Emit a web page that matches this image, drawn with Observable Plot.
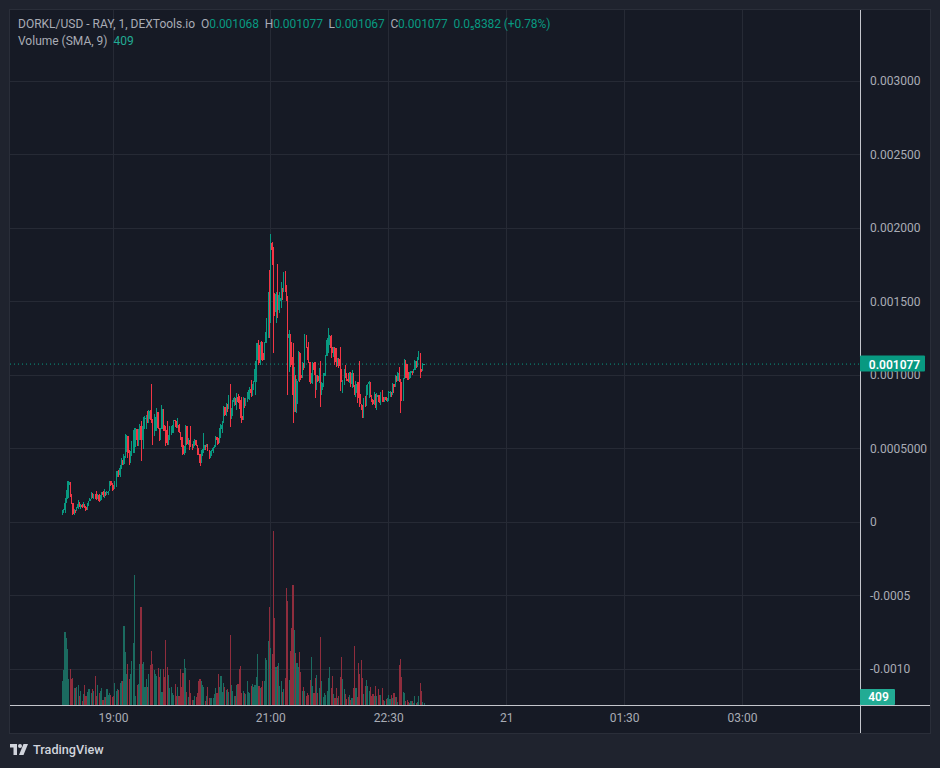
<!DOCTYPE html>
<html><head><meta charset="utf-8">
<script src="https://cdn.jsdelivr.net/npm/d3@7"></script>
<script src="https://cdn.jsdelivr.net/npm/@observablehq/plot@0.6"></script>
<style>
html,body{margin:0;padding:0;background:#1f232e;width:940px;height:768px;overflow:hidden;font-family:Roboto,sans-serif}
#pane{position:absolute;left:9px;top:9px;width:920px;height:723px;background:#161a25;border:1px solid #2a2e39}
#chart{position:absolute;left:0;top:0}
.legend{position:absolute;left:18px;font-size:12px;color:#a9acb5;white-space:pre;line-height:16px}
.legend b{font-weight:400;color:#089981}
.legend span{letter-spacing:-0.09px}
#brand{position:absolute;left:10px;top:742px;display:flex;align-items:center;gap:5px;color:#d1d4dc;font-size:12.7px;font-weight:500}
</style></head><body>
<div id="pane"></div><div id="chart"></div>
<div class="legend" style="top:16px">DORKL/USD - RAY, 1, DEXTools.io  <span>O<b>0.001068</b>  H<b>0.001077</b>  L<b>0.001067</b>  C<b>0.001077</b>  <b>0.0₅8382 (+0.78%)</b></span></div>
<div class="legend" style="top:33px">Volume (SMA, 9)  <b style="color:#22ab94">409</b></div>
<div id="brand"><svg width="18" height="11" viewBox="0 0 36 22" fill="#d1d4dc"><path d="M0 0h14v22H7V7H0z"/><circle cx="20" cy="4" r="4"/><path d="M27 0h9l-9 22h-9z"/></svg><span>TradingView</span></div>
<script>
// prices in millionths of a dollar, one candle per minute from 18:21
const highs=[82,86,161,218,279,279,252,177,127,86,
82,100,150,136,123,120,136,120,109,127,
143,161,200,190,190,190,211,188,190,186,
205,207,222,200,207,213,279,275,263,252,
275,343,347,354,388,433,422,463,599,594,
517,490,483,547,626,637,637,569,630,667,
683,655,712,717,728,757,762,762,939,698,
735,712,773,694,637,637,796,712,660,649,
683,592,649,653,660,694,689,671,705,667,
603,580,580,513,660,615,569,558,653,531,
553,565,547,524,501,456,490,494,603,524,
531,531,456,479,490,508,524,581,575,569,
637,667,683,789,785,807,785,864,939,773,
830,853,841,875,871,857,830,853,853,818,
841,887,895,920,966,936,960,1095,1215,1220,
1238,1227,1230,1227,1227,1295,1390,1567,1714,1959,
1907,1873,1560,1567,1755,1544,1567,1635,1589,1703,
1707,1610,1533,1306,1238,1227,1215,1056,990,973,
1163,1147,1152,1090,1079,1276,1272,1190,1227,1090,
1011,1090,1085,1090,1000,1000,1045,1095,950,1011,
1011,1136,1249,1317,1272,1272,1192,1192,1192,1181,
1118,1118,1188,1040,966,1041,1068,1010,1011,1022,
1022,1034,973,932,960,955,955,1095,796,796,
841,859,932,940,959,909,864,837,886,864,
875,852,860,886,898,852,852,852,841,891,
890,886,943,927,1000,989,1022,1056,955,950,
977,1109,1102,1068,1022,1022,1027,1027,1041,1102,
1068,1125,1163,1131,1034,1079,1077];
const lows=[48,59,59,127,154,161,172,123,48,50,
59,77,91,100,89,93,109,93,75,82,
111,139,159,161,154,154,150,154,132,150,
150,172,160,176,182,184,213,245,213,218,
240,240,304,308,308,358,388,388,433,474,
433,388,399,449,467,467,508,513,513,558,
417,569,497,630,630,671,671,690,671,524,
581,615,615,630,547,569,630,615,615,517,
524,524,558,592,603,603,644,637,637,603,
558,510,456,456,524,524,524,490,508,490,
501,513,513,456,456,381,417,445,472,490,
508,479,429,433,449,467,508,508,520,531,
535,569,603,676,717,717,750,789,644,717,
721,789,796,762,807,767,705,676,721,773,
807,819,834,830,852,859,900,864,955,1100,
1068,1068,1100,1095,1102,1215,1215,1249,1249,1356,
1748,1147,1400,1351,1385,1442,1424,1453,1510,1567,
1567,1500,864,1022,1056,1068,671,750,750,739,
977,955,966,1011,1034,1045,1186,1100,1079,936,
943,940,1000,846,900,950,945,784,864,920,
990,990,1147,1147,1204,1113,1147,1120,1068,1056,
1100,1045,891,950,875,932,977,960,955,943,
920,914,920,864,850,807,846,784,762,710,
705,784,791,860,841,852,818,796,796,773,
762,818,810,796,818,818,818,823,818,823,
850,852,864,875,927,954,977,955,739,825,
825,1045,977,966,966,977,977,1000,1011,1041,
1045,1056,1102,982,1022,1045,1067];
const closes=[70,82,127,161,252,272,191,130,55,78,
75,95,125,108,118,100,112,98,82,120,
140,158,195,165,178,160,155,183,140,175,
200,180,205,195,203,210,275,250,225,222,
272,305,335,320,365,400,395,445,540,585,
470,425,470,530,610,625,630,560,620,655,
560,640,700,710,722,700,755,750,690,600,
690,700,745,640,560,630,770,640,625,540,
535,560,640,645,650,690,685,645,660,610,
565,520,460,470,650,530,560,555,515,500,
540,555,520,480,465,400,480,490,520,515,
520,490,440,470,485,500,520,575,555,540,
630,660,675,780,730,800,770,855,700,725,
815,840,810,850,815,790,720,690,840,790,
835,880,890,905,875,930,950,1040,1190,1200,
1080,1220,1150,1100,1220,1290,1380,1560,1480,1900,
1850,1500,1430,1550,1450,1500,1520,1590,1580,1690,
1600,1540,1250,1280,1150,1120,860,1000,800,960,
1155,1000,980,1080,1070,1260,1190,1110,1090,950,
1000,1080,1030,920,990,960,1030,900,945,1000,
1010,1130,1240,1250,1268,1180,1150,1180,1090,1060,
1110,1060,975,955,960,1030,1000,975,960,1010,
940,1010,930,880,940,900,870,800,770,720,
830,795,925,935,950,860,830,800,870,850,
860,845,820,880,830,822,848,826,838,880,
885,860,935,920,990,960,1015,970,850,840,
970,1090,1075,980,972,1015,1025,1010,1035,1095,
1055,1115,1150,1040,1024,1068,1077];
const volumes=[1080,1575,3270,3000,2520,1170,1620,1170,1215,750,
780,825,900,405,630,180,480,900,405,600,
705,705,525,705,630,1305,405,900,525,645,
750,225,375,375,705,450,555,450,375,400,
990,645,705,675,1005,1080,1080,3555,2385,1380,
1845,1155,1395,1980,2790,5850,420,900,945,1845,
4410,1845,1935,810,1155,795,1395,1815,2430,1845,
1575,1395,1320,1665,1275,1635,585,1620,1275,2925,
1725,1335,765,825,555,435,930,420,825,405,
1620,825,1455,2070,1650,570,375,1110,525,225,
225,405,345,525,1080,1170,1095,900,825,180,
405,795,330,300,330,330,480,750,555,1380,
825,1305,600,975,825,675,700,600,3150,900,
645,420,420,900,945,1620,1755,525,630,525,
495,1095,585,555,855,945,810,900,1245,2295,
855,750,825,1080,1080,2115,2025,2880,4410,2565,
2295,7830,3915,1725,1770,1875,855,1065,585,700,
1200,5250,4680,1125,2430,3450,5400,3375,2355,1875,
1725,2385,1485,630,810,615,420,555,450,1125,
2160,855,555,1215,1350,555,780,3060,1080,375,
555,450,630,1215,1710,765,1305,495,300,780,
330,405,1260,2160,1170,705,495,270,375,450,
225,300,765,2655,765,360,1875,1395,2025,1215,
500,855,1125,855,645,795,420,500,405,855,
405,705,450,450,765,225,195,260,300,450,
270,450,330,525,360,360,150,1800,2055,1245,
585,555,180,225,150,100,165,165,75,405,
100,135,405,975,630,135,75];

const firstOpen=55, lastPrice=0.001077, lastVolume=409;
const priceTicks=[0.003,0.0025,0.002,0.0015,0.001,0.0005,0,-0.0005,-0.001];
const priceTickLabels=["0.003000","0.002500","0.002000","0.001500","0.001000","0.0005000","0","-0.0005","-0.0010"];
const timeTicks=["2024-01-20T19:00Z","2024-01-20T21:00Z","2024-01-20T22:30Z","2024-01-21T00:00Z","2024-01-21T01:30Z","2024-01-21T03:00Z"].map(s=>new Date(s));
const timeTickLabels=["19:00","21:00","22:30","21","01:30","03:00"];
const xDomain=[new Date("2024-01-20T17:41:24Z"),new Date("2024-01-21T04:30:00Z")];
const yDomain=[-0.0012456,0.0034823];
const start=+new Date("2024-01-20T18:21:00Z");
const up="#089981",down="#f23645",upVol="#1b6b60",downVol="#8f2d3d",gridCol="#262a35",textCol="#a9acb5";

// volume shares the price panel: it sits on the panel floor on its own hidden ratio
const volumeRatio=1.5117e-7;
const volPos=v=>yDomain[0]+v*volumeRatio;

const candles=closes.map((c,i)=>{
  const open=(i?closes[i-1]:firstOpen)*1e-6, close=c*1e-6;
  return {t:new Date(start+i*60000),open,close,high:highs[i]*1e-6,low:lows[i]*1e-6,volume:volumes[i],rising:close>=open};
});
const crisp={shapeRendering:"crispEdges"};
const chart=Plot.plot({
  width:940,height:733,marginTop:10,marginBottom:28,marginLeft:10,marginRight:80,
  style:{background:"transparent",fontFamily:"Roboto,sans-serif",fontSize:"12px",color:textCol},
  x:{type:"utc",domain:xDomain},
  y:{domain:yDomain},
  marks:[
    Plot.gridX(timeTicks,{stroke:gridCol,strokeOpacity:1,...crisp}),
    Plot.gridY(priceTicks,{stroke:gridCol,strokeOpacity:1,...crisp}),
    Plot.axisY({anchor:"right",ticks:priceTicks,tickSize:0,tickPadding:9.5,label:null,fill:textCol,
      tickFormat:d=>priceTickLabels[priceTicks.indexOf(d)]}),
    Plot.axisX({ticks:timeTicks,tickSize:0,tickPadding:8,label:null,fill:textCol,
      tickFormat:d=>timeTickLabels[timeTicks.findIndex(t=>+t===+d)]}),
    Plot.ruleX(candles,{x:"t",y1:yDomain[0],y2:d=>volPos(d.volume),stroke:d=>d.rising?upVol:downVol,strokeWidth:1.1,...crisp}),
    Plot.ruleY([lastPrice],{stroke:up,strokeDasharray:"1 3"}),
    Plot.ruleX(candles,{x:"t",y1:"low",y2:"high",stroke:d=>d.rising?up:down,strokeWidth:1,...crisp}),
    Plot.ruleX(candles,{x:"t",y1:"open",y2:"close",stroke:d=>d.rising?up:down,strokeWidth:1.25,...crisp}),
    Plot.ruleY([yDomain[0]],{stroke:"#c4c6cc",insetRight:-70,...crisp}),
    Plot.ruleX([xDomain[1]],{stroke:"#c4c6cc",insetBottom:-28,...crisp}),
    Plot.rect([lastPrice],{x1:()=>xDomain[1],x2:()=>xDomain[1],y1:d=>d,y2:d=>d,insetRight:-65,insetTop:-8,insetBottom:-8,fill:up,r:1}),
    Plot.text([lastPrice],{x:()=>xDomain[1],y:d=>d,dx:34,dy:1,text:d=>d.toFixed(6),fill:"#fff",fontWeight:600,fontSize:12}),
    Plot.rect([lastVolume],{x1:()=>xDomain[1],x2:()=>xDomain[1],y1:d=>volPos(d),y2:d=>volPos(d),insetRight:-35,insetTop:-7,insetBottom:-9,fill:"#22ab94",r:1}),
    Plot.text([lastVolume],{x:()=>xDomain[1],y:d=>volPos(d),dx:18,dy:1,text:d=>String(d),fill:"#fff",fontWeight:600,fontSize:12})
  ]
});
document.getElementById("chart").append(chart);
</script></body></html>
